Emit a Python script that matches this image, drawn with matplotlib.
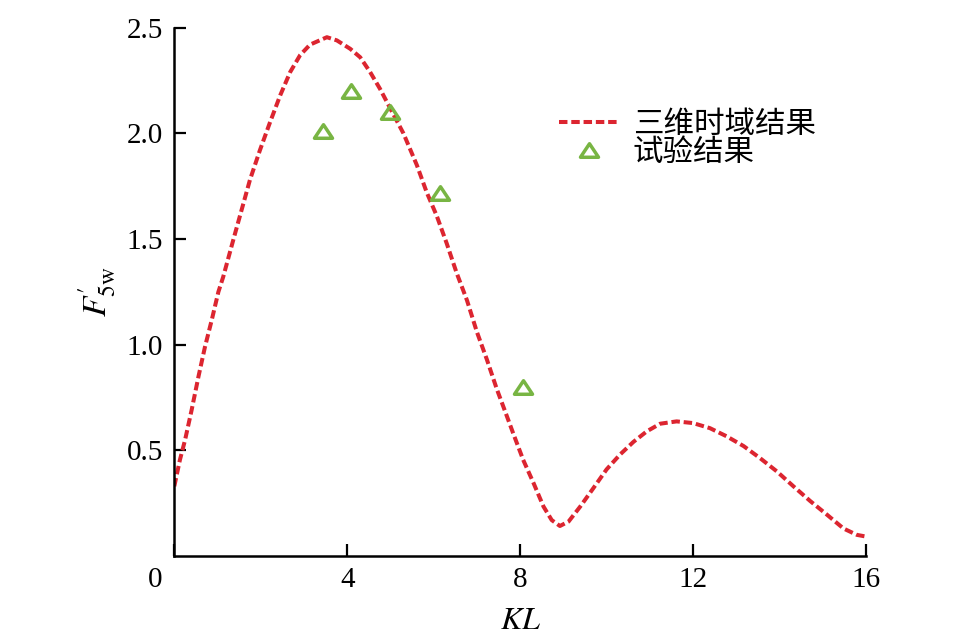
import matplotlib
matplotlib.use("Agg")
import matplotlib.pyplot as plt
import matplotlib.transforms as mtrans
from matplotlib.path import Path

plt.rcParams['font.family'] = ['Liberation Serif', 'Noto Sans CJK SC', 'DejaVu Sans']
plt.rcParams['mathtext.fontset'] = 'stix'

# 三维时域结果
kl_sim = [0.0, 0.13, 0.25, 0.40, 0.56, 0.71, 0.87, 1.02, 1.13, 1.37, 1.56, 1.75, 1.98,
          2.21, 2.45, 2.68, 2.91, 3.14, 3.53, 3.76, 4.07, 4.30, 4.53, 4.76, 4.99,
          5.30, 5.61, 5.84, 6.07, 6.30, 6.53, 6.77, 7.00, 7.23, 7.46, 7.66, 7.84,
          8.07, 8.31, 8.54, 8.73, 8.92, 9.12, 9.39, 9.69, 10.0, 10.31, 10.62, 10.93,
          11.24, 11.62, 12.0, 12.39, 12.78, 13.17, 13.55, 13.94, 14.32, 14.71,
          15.10, 15.48, 15.79, 16.0]
f_sim = [0.33, 0.455, 0.55, 0.69, 0.85, 0.99, 1.12, 1.25, 1.32, 1.50, 1.64, 1.78, 1.92,
         2.05, 2.18, 2.29, 2.37, 2.42, 2.455, 2.44, 2.40, 2.36, 2.29, 2.21, 2.12,
         2.00, 1.85, 1.72, 1.61, 1.48, 1.34, 1.21, 1.06, 0.93, 0.79, 0.68, 0.58,
         0.455, 0.345, 0.234, 0.17, 0.142, 0.163, 0.234, 0.32, 0.41, 0.48, 0.54, 0.59,
         0.626, 0.637, 0.629, 0.605, 0.566, 0.52, 0.463, 0.40, 0.33, 0.26,
         0.195, 0.13, 0.10, 0.092]

# 试验结果
kl_exp = [3.45, 4.08, 5.0, 6.15, 8.06]
f_exp = [2.01, 2.20, 2.10, 1.72, 0.80]

xticks = [0, 4, 8, 12, 16]
yticks = [0.5, 1.0, 1.5, 2.0, 2.5]

fig = plt.figure(figsize=(9.56, 6.38), dpi=100)
ax = fig.add_axes([174.3 / 956, 82 / 638, (866 - 174.3) / 956, (556 - 27.7) / 638])

ax.plot(kl_sim, f_sim, color='#dc2530', lw=2.9, dashes=(2.1, 0.95), label='三维时域结果')

tri = Path([(-1, -0.75), (1, -0.75), (0, 0.75), (-1, -0.75)],
           [Path.MOVETO, Path.LINETO, Path.LINETO, Path.CLOSEPOLY])
ax.plot(kl_exp, f_exp, ls='none', marker=tri, ms=13, mfc='none', mec='#78b543',
        mew=2.5, label='试验结果')

ax.set_xlim(0, 16)
ax.set_ylim(0, 2.5)
ax.set_xticks(xticks)
ax.set_yticks(yticks)
ax.set_xticklabels([str(t) for t in xticks])
ax.set_yticklabels(['%.1f' % t for t in yticks])

for s in ['top', 'right']:
    ax.spines[s].set_visible(False)
for s in ['left', 'bottom']:
    ax.spines[s].set_linewidth(1.8)
ax.tick_params(direction='in', length=8.5, width=1.6, labelsize=21, pad=8)

# the "0" sits left of the corner like the y labels
lab0 = ax.get_xticklabels()[0]
lab0.set_ha('right')
lab0.set_transform(lab0.get_transform() + mtrans.ScaledTranslation(-12 / 100, 0, fig.dpi_scale_trans))

ax.set_xlabel('$KL$', fontsize=23, labelpad=10)
ax.set_ylabel("$F_{5\\mathrm{w}}^{\\prime}$", fontsize=24, labelpad=6)

ax.legend(loc='upper left', bbox_to_anchor=(385 / 691.7, 1 - (111 - 27.7) / 528.3),
          frameon=False, fontsize=22, handlelength=1.95, handletextpad=0.45,
          labelspacing=-0.05, borderpad=0, borderaxespad=0)

fig.savefig('out.png', dpi=100)
